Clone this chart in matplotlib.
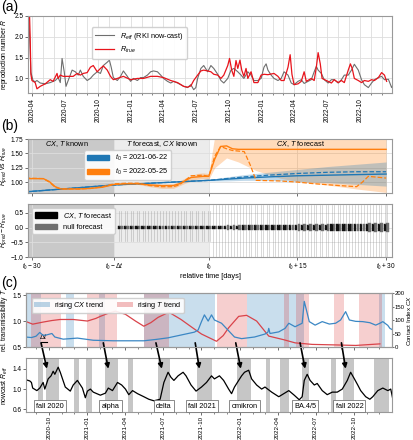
import numpy as np
import matplotlib
matplotlib.use('Agg')
import matplotlib.pyplot as plt
import matplotlib.dates as mdates
from matplotlib.patches import Patch

plt.rcParams['font.family'] = ['Liberation Sans', 'DejaVu Sans']
plt.rcParams['font.size'] = 5
plt.rcParams['mathtext.fontset'] = 'custom'
plt.rcParams['mathtext.rm'] = 'Liberation Sans'
plt.rcParams['mathtext.it'] = 'Liberation Sans:italic'
plt.rcParams['mathtext.bf'] = 'Liberation Sans:bold'
plt.rcParams['axes.edgecolor'] = '#999999'
plt.rcParams['xtick.color'] = '#555555'
plt.rcParams['ytick.color'] = '#555555'
plt.rcParams['xtick.labelcolor'] = 'black'
plt.rcParams['ytick.labelcolor'] = 'black'
plt.rcParams['xtick.major.size'] = 2.2
plt.rcParams['ytick.major.size'] = 2.2
plt.rcParams['xtick.minor.size'] = 1.4
plt.rcParams['xtick.major.width'] = 0.6
plt.rcParams['ytick.major.width'] = 0.6
plt.rcParams['xtick.minor.width'] = 0.5

TICK = 4.7
LAB = 4.9
LEG = 5.3

# ---------------- data: panel (a) (days since 2020-04-01) ----------------
a_eff_days = [-12, -6, -4, 2, 8, 13, 22, 36, 50, 64,
              72, 78, 83, 89, 94, 100, 111, 120, 128, 134,
              142, 153, 162, 170, 181, 190, 198, 209, 215, 220,
              226, 237, 246, 254, 265, 274, 282, 293, 302, 310,
              321, 330, 338, 349, 358, 366, 377, 386, 394, 405,
              414, 422, 433, 442, 450, 456, 461, 470, 478, 489,
              498, 506, 517, 526, 534, 545, 554, 562, 573, 582,
              590, 601, 610, 618, 629, 638, 646, 652, 657, 666,
              674, 685, 694, 702, 713, 722, 730, 741, 750, 758,
              769, 778, 786, 792, 797, 806, 814, 825, 834, 842,
              853, 862, 870, 881, 890, 898, 909, 918, 926, 937,
              946, 954, 965, 974, 982, 993, 1002, 1008]
a_eff_vals = [3.0, 1.68, 1.15, 0.95, 0.92, 0.95, 0.89, 0.87, 0.9, 0.95,
              1.02, 0.9, 1.48, 1.16, 0.81, 0.95, 1.2, 1.16, 1.08, 1.2,
              1.05, 0.95, 1.0, 1.08, 1.16, 1.12, 1.31, 1.39, 1.44, 1.27,
              1.02, 0.95, 1.05, 1.18, 1.05, 0.93, 1.0, 0.95, 1.02, 1.02,
              1.08, 1.16, 1.18, 1.16, 1.08, 1.0, 0.93, 0.89, 0.93, 0.89,
              0.85, 0.81, 0.78, 0.85, 0.73, 0.78, 1.0, 1.24, 1.31, 1.16,
              1.31, 1.24, 1.1, 0.95, 0.89, 1.0, 1.2, 1.24, 1.16, 1.08,
              1.0, 1.16, 1.08, 0.95, 0.95, 1.0, 1.27, 1.35, 1.2, 1.08,
              1.0, 0.95, 1.0, 1.16, 1.08, 0.89, 0.85, 0.93, 0.97, 0.88,
              0.93, 0.97, 1.16, 1.29, 1.2, 1.12, 0.97, 0.89, 0.97, 0.97,
              0.89, 0.97, 1.08, 1.08, 1.2, 1.34, 1.2, 0.97, 0.85, 0.78,
              0.89, 0.97, 1.02, 1.05, 0.97, 0.98, 0.78, 0.89]

a_true_days = [-12, -8, -6, -4, -1, 8, 13, 22, 36, 50,
               58, 69, 72, 78, 86, 97, 114, 125, 134, 142,
               153, 162, 170, 181, 190, 198, 209, 218, 226, 237,
               254, 274, 293, 310, 330, 349, 366, 386, 405, 422,
               433, 442, 450, 461, 470, 478, 489, 498, 506, 517,
               526, 534, 545, 550, 556, 562, 568, 573, 579, 584,
               590, 596, 601, 610, 618, 629, 638, 646, 657, 674,
               685, 694, 702, 713, 719, 724, 730, 741, 750, 758,
               764, 778, 786, 792, 797, 803, 808, 820, 834, 842,
               853, 862, 870, 881, 887, 892, 898, 909, 918, 926,
               937, 946, 954, 965, 974, 982, 988]
a_true_vals = [3.0, 2.6, 2.0, 1.1, 0.95, 0.9, 0.75, 0.81, 0.87, 0.97,
               0.93, 1.12, 1.0, 1.08, 1.05, 1.05, 1.05, 1.12, 1.08, 1.12,
               1.14, 1.27, 1.31, 1.16, 1.24, 1.3, 1.2, 1.05, 0.97, 1.0,
               1.05, 0.97, 1.0, 1.0, 1.05, 1.05, 1.02, 0.95, 0.9, 0.81,
               0.79, 0.82, 0.95, 1.08, 1.18, 1.2, 1.18, 1.16, 1.1, 1.08,
               1.0, 1.08, 1.31, 1.48, 1.2, 1.05, 1.43, 1.24, 1.44, 1.2,
               1.05, 1.24, 1.0, 1.16, 0.9, 0.9, 1.08, 1.1, 1.09, 1.12,
               1.05, 0.95, 0.95, 1.27, 1.57, 1.1, 0.85, 0.87, 0.93, 1.16,
               0.93, 1.0, 0.95, 1.27, 1.62, 1.35, 1.0, 0.95, 0.89, 0.97,
               0.9, 0.95, 0.9, 1.2, 1.35, 1.24, 1.0, 0.95, 0.9, 0.95,
               0.93, 0.97, 0.95, 1.02, 1.14, 1.08, 0.93]

# ---------------- data: panel (b) (relative days) ----------------
dt_days = 16
b_blue_days = [-31, -16, 0, 3, 6, 10, 15, 20, 25, 30]
b_blue_pred = [0.83, 0.95, 1.03, 1.05, 1.07, 1.09, 1.11, 1.12, 1.13, 1.14]
b_blue_true = [0.83, 0.95, 1.03, 1.06, 1.09, 1.12, 1.15, 1.17, 1.18, 1.18]
b_blue_band_days = [0, 3, 6, 10, 15, 20, 25, 30]
b_blue_lo = [1.02, 1.02, 1.03, 1.03, 1.01, 0.99, 0.96, 0.93]
b_blue_hi = [1.04, 1.09, 1.13, 1.17, 1.22, 1.27, 1.31, 1.35]

b_or_true_days = [-31, -28, -27, -26, -25, -22, -20, -18, -16, -14,
                  -12, -10, -8, -6, -5, -3, -1, 0, 1, 2,
                  3, 4, 6, 7, 8, 12, 15, 18, 22, 25,
                  26, 27, 30]
b_or_true = [1.07, 1.06, 1.0, 0.91, 0.88, 0.88, 0.89, 0.92, 0.97, 0.98,
             0.98, 0.94, 0.92, 0.92, 0.95, 1.11, 1.12, 1.1, 1.45, 1.62,
             1.58, 1.55, 1.53, 1.3, 1.03, 1.02, 1.0, 0.97, 0.94, 0.92,
             1.0, 1.1, 1.07]
b_or_pred_days = [-31, -28, -27, -26, -25, -22, -20, -18, -16, -14,
                  -12, -10, -8, -6, -5, -3, -1, 0, 1, 2,
                  3, 4, 5, 30]
b_or_pred = [1.06, 1.06, 1.01, 0.92, 0.88, 0.88, 0.89, 0.91, 0.96, 0.97,
             0.97, 0.95, 0.94, 0.94, 0.97, 1.08, 1.1, 1.1, 1.4, 1.62,
             1.63, 1.58, 1.57, 1.57]
b_or_band_days = [-16, -12, -10, -8, -6, -4, -2, -1, 0, 1, 3, 5, 8, 12, 15, 20, 25, 30]
b_or_lo = [0.95, 0.96, 0.92, 0.89, 0.89, 0.98, 1.05, 1.06, 1.05, 1.25, 1.42, 1.35, 1.2, 1.07, 1.01, 0.95, 0.88, 0.82]
b_or_hi = [0.98, 1.0, 0.98, 0.96, 0.97, 1.07, 1.15, 1.16, 1.15, 1.8, 1.9, 1.9, 1.9, 1.9, 1.9, 1.9, 1.9, 1.9]

v_days = list(range(-15, 31))
cx_q3 = [0.05, 0.05, 0.05, 0.05, 0.05, 0.05, 0.05, 0.05, 0.05, 0.05, 0.05, 0.05, 0.05, 0.05, 0.05, 0.05,
         0.05, 0.05, 0.06, 0.06, 0.06, 0.07, 0.07, 0.07, 0.08, 0.08, 0.08, 0.08, 0.09, 0.09,
         0.09, 0.09, 0.10, 0.10, 0.10, 0.10, 0.11, 0.11, 0.11, 0.11, 0.12, 0.12, 0.12, 0.12, 0.13, 0.13]
cx_q1 = [-0.05, -0.05, -0.05, -0.05, -0.05, -0.05, -0.05, -0.05, -0.05, -0.05, -0.05, -0.05, -0.05, -0.05, -0.05, -0.05,
         -0.05, -0.05, -0.06, -0.06, -0.06, -0.07, -0.07, -0.07, -0.08, -0.08, -0.08, -0.08, -0.09, -0.09,
         -0.09, -0.09, -0.10, -0.10, -0.10, -0.10, -0.11, -0.11, -0.11, -0.11, -0.12, -0.12, -0.12, -0.12, -0.13, -0.13]
null_q3 = [0.06, 0.06, 0.06, 0.06, 0.06, 0.06, 0.06, 0.06, 0.06, 0.06, 0.06, 0.06, 0.06, 0.06, 0.06, 0.06,
           0.06, 0.06, 0.07, 0.07, 0.08, 0.08, 0.08, 0.09, 0.09, 0.09, 0.10, 0.10, 0.10, 0.10,
           0.11, 0.11, 0.11, 0.11, 0.12, 0.12, 0.12, 0.12, 0.13, 0.13, 0.13, 0.13, 0.14, 0.14, 0.14, 0.14]
null_q1 = [-0.06, -0.06, -0.06, -0.06, -0.06, -0.06, -0.06, -0.06, -0.06, -0.06, -0.06, -0.06, -0.06, -0.06, -0.06, -0.06,
           -0.06, -0.06, -0.07, -0.07, -0.08, -0.08, -0.08, -0.09, -0.09, -0.09, -0.10, -0.10, -0.10, -0.10,
           -0.11, -0.11, -0.11, -0.11, -0.12, -0.12, -0.12, -0.12, -0.13, -0.13, -0.13, -0.13, -0.14, -0.14, -0.14, -0.14]
whis_hi = [0.55, 0.55, 0.55, 0.55, 0.55, 0.55, 0.55, 0.55, 0.55, 0.55, 0.55, 0.55, 0.55, 0.55, 0.55, 0.55,
           0.75, 0.75, 0.75, 0.75, 0.75, 0.75, 0.75, 0.75, 0.75, 0.75, 0.75, 0.75, 0.75, 0.75,
           0.75, 0.75, 0.75, 0.75, 0.75, 0.75, 0.75, 0.75, 0.75, 0.75, 0.75, 0.75, 0.75, 0.75, 0.75, 0.75]
whis_lo = [-0.45, -0.45, -0.45, -0.45, -0.45, -0.45, -0.45, -0.45, -0.45, -0.45, -0.45, -0.45, -0.45, -0.45, -0.45, -0.45,
           -1.0, -1.0, -1.0, -1.0, -1.0, -1.0, -1.0, -1.0, -1.0, -1.0, -1.0, -1.0, -1.0, -1.0,
           -1.0, -1.0, -1.0, -1.0, -1.0, -1.0, -1.0, -1.0, -1.0, -1.0, -1.0, -1.0, -1.0, -1.0, -1.0, -1.0]
b_xticks = [-30, -16, 0, 15, 30]
b_xticklabels = [r'$t_0-30$', r'$t_0-\Delta t$', r'$t_0$', r'$t_0+15$', r'$t_0+30$']

# ---------------- data: panel (c) (days since 2020-04-01) ----------------
c1_T_days = [128, 144, 169, 190, 210, 241, 275, 295, 306, 325, 342, 366, 390, 410, 427, 444, 470,
             499, 525, 548, 584, 600, 613, 637, 656, 680, 709, 745, 772, 813, 869, 917, 975]
c1_T_vals = [0.99, 0.94, 0.98, 1.01, 1.03, 1.03, 1.0, 1.05, 1.09, 1.15, 1.19, 1.13, 1.0, 0.9, 0.97, 1.07, 1.17,
             1.03, 0.88, 0.75, 0.61, 0.72, 0.87, 1.09, 1.11, 1.0, 0.71, 0.64, 0.58, 0.55, 0.54, 0.53, 0.56]
c1_cx_days = [127, 141, 152, 161, 169, 178, 190, 197, 217, 251,
              289, 337, 386, 410, 439, 468, 492, 516, 531, 540,
              548, 555, 564, 572, 579, 596, 613, 627, 644, 675,
              700, 707, 709, 712, 733, 748, 757, 772, 789, 794,
              799, 806, 820, 837, 854, 869, 881, 893, 902, 917,
              934, 951, 965, 975, 982, 994, 999, 1006]
c1_cx_vals = [37, 35, 40, 54, 43, 45, 50, 37, 29, 33,
              25, 23, 23, 23, 28, 34, 42, 50, 55, 63,
              94, 119, 96, 119, 100, 88, 60, 37, 31, 37,
              48, 55, 69, 50, 56, 69, 88, 75, 88, 169,
              138, 94, 81, 94, 85, 88, 100, 131, 100, 95,
              94, 90, 81, 88, 94, 80, 69, 63]
cx_rise_spans = [(128, 163), (223, 243), (302, 316), (411, 580), (656, 793), (972, 988)]
t_rise_spans = [(140, 211), (275, 345), (411, 471), (584, 656), (745, 757), (774, 805), (865, 890), (924, 980)]

c2_days = [129, 137, 141, 144, 154, 161, 169, 173, 181, 188,
           193, 197, 205, 210, 222, 234, 241, 251, 263, 270,
           275, 282, 289, 306, 318, 325, 335, 347, 357, 366,
           374, 383, 395, 410, 422, 434, 444, 449, 458, 468,
           475, 482, 492, 504, 511, 523, 535, 548, 560, 572,
           579, 591, 601, 613, 620, 627, 637, 644, 651, 661,
           668, 680, 692, 700, 716, 733, 745, 757, 770, 782,
           789, 794, 801, 808, 818, 825, 837, 849, 861, 873,
           885, 897, 905, 914, 922, 929, 941, 951, 958, 970,
           982, 994, 1001, 1006, 1011]
c2_vals = [1.18, 1.16, 1.13, 1.02, 0.97, 1.02, 1.13, 1.0, 1.2, 1.26,
           1.35, 1.29, 1.43, 1.33, 1.04, 0.96, 1.08, 1.17, 1.02, 0.83,
           0.96, 1.0, 0.94, 0.88, 0.92, 1.02, 0.97, 1.13, 1.08, 1.0,
           0.89, 0.97, 0.91, 0.85, 0.8, 0.77, 0.79, 0.8, 1.13, 1.33,
           1.23, 1.17, 1.26, 1.33, 1.26, 1.08, 0.96, 1.04, 1.13, 1.26,
           1.2, 1.26, 1.17, 1.0, 0.91, 1.04, 1.17, 1.26, 1.33, 1.37,
           1.2, 1.08, 1.0, 1.04, 0.94, 0.85, 0.91, 0.97, 0.88, 0.79,
           0.85, 1.17, 1.29, 1.17, 1.08, 1.11, 0.97, 0.89, 0.94, 0.94,
           1.0, 1.17, 1.33, 1.2, 1.08, 0.97, 0.85, 0.8, 0.85, 0.97,
           1.02, 0.97, 1.0, 0.8, 0.88]
c2_spans = [(156, 169), (176, 208), (242, 255), (272, 286), (318, 348), (371, 383),
            (444, 473), (538, 573), (634, 667), (702, 711), (736, 758), (789, 805),
            (857, 869), (887, 914), (960, 996)]
wave_labels = ['fall 2020', 'alpha', 'delta', 'fall 2021', 'omikron', 'BA.4/5', 'fall 2022']
wave_label_days = [185, 330, 458, 550, 651, 796, 902]
arrow_start_days = [164, 313, 439, 533, 630, 784, 883]
arrow_end_days = [178, 325, 453, 543, 642, 796, 893]

BASE = np.datetime64('2020-04-01')


def to_dates(days):
    return BASE + np.array(days, dtype='timedelta64[D]')


def date_num(day):
    return mdates.date2num(to_dates([day])[0])


W, H = 413, 440
fig = plt.figure(figsize=(W / 100, H / 100), dpi=100)


def rect(x0, y0, x1, y1):
    return [x0 / W, 1 - y1 / H, (x1 - x0) / W, (y1 - y0) / H]


def date_axis(ax, labels=True):
    ax.xaxis.set_major_locator(mdates.MonthLocator(bymonth=[1, 4, 7, 10]))
    ax.xaxis.set_minor_locator(mdates.MonthLocator())
    ax.xaxis.set_major_formatter(mdates.DateFormatter('%Y-%m'))
    if labels:
        for lb in ax.get_xticklabels():
            lb.set_rotation(90)
    else:
        ax.tick_params(axis='x', labelbottom=False)


def place_ylabel(ax, x_px, x0_px, w_px):
    ax.yaxis.set_label_coords((x_px - x0_px) / w_px, 0.5)


# ---------------- panel (a) ----------------
ax_a = fig.add_axes(rect(28, 16, 392, 93))
ax_a.plot(to_dates(a_eff_days), a_eff_vals, color='#6e6e6e', lw=0.8, label=r'$R_{eff}$ (RKI now-cast)')
ax_a.plot(to_dates(a_true_days), a_true_vals, color='#e8141c', lw=0.9, label=r'$R_{true}$')
ax_a.set_ylim(0.65, 2.5)
ax_a.set_xlim(to_dates([-12])[0], to_dates([1003])[0])
ax_a.set_yticks([1.0, 1.5, 2.0, 2.5])
date_axis(ax_a)
ax_a.grid(True, which='both', color='#dddddd', lw=0.6)
ax_a.set_axisbelow(True)
ax_a.set_ylabel(r'reproduction number $R$', fontsize=LAB)
place_ylabel(ax_a, 10.5, 28, 364)
ax_a.tick_params(labelsize=TICK, pad=1.2)
ax_a.legend(loc='upper left', bbox_to_anchor=(0.165, 0.9), fontsize=LEG, frameon=True,
            framealpha=0.9, edgecolor='#cccccc', handlelength=2.6, borderpad=0.45, labelspacing=0.45)
fig.text(0.002, 0.999, '(a)', fontsize=10, va='top', ha='left')

# ---------------- panel (b) top ----------------
ax_b1 = fig.add_axes(rect(28, 139, 392, 193))
ax_b2 = fig.add_axes(rect(28, 204, 392, 257), sharex=ax_b1)
for ax in (ax_b1, ax_b2):
    ax.axvspan(-40, -dt_days, color='#c9c9c9', lw=0, zorder=0)
    ax.axvspan(-dt_days, 0, color='#ececec', lw=0, zorder=0)
    ax.grid(True, color='#dedede', lw=0.6, zorder=0.5)
    ax.set_axisbelow(True)
    ax.tick_params(labelsize=TICK, pad=1.2)

ax_b1.fill_between(b_or_band_days, b_or_lo, b_or_hi, color='#ff7f0e', alpha=0.28, lw=0)
ax_b1.fill_between(b_blue_band_days, b_blue_lo, b_blue_hi, color='#1f77b4', alpha=0.28, lw=0)
ax_b1.plot(b_blue_days, b_blue_pred, color='#1f77b4', lw=1.0)
ax_b1.plot(b_blue_days, b_blue_true, color='#1f77b4', lw=0.9, ls='--')
ax_b1.plot(b_or_pred_days, b_or_pred, color='#ff7f0e', lw=1.0)
ax_b1.plot(b_or_true_days, b_or_true, color='#ff7f0e', lw=0.9, ls='--')
ax_b1.set_xlim(-30.6, 31)
ax_b1.set_ylim(0.81, 1.75)
ax_b1.set_yticks([1.0, 1.25, 1.5, 1.75])
ax_b1.set_yticklabels(['1.00', '1.25', '1.50', '1.75'])
ax_b1.set_xticks(b_xticks)
ax_b1.tick_params(axis='x', labelbottom=False)
ax_b1.set_ylabel(r'$R_{pred}$ vs $R_{true}$', fontsize=LAB)
place_ylabel(ax_b1, 9.5, 28, 364)
ax_b1.text(-24, 1.66, r'$CX$, $T$ known', ha='center', va='center', fontsize=LEG)
ax_b1.text(-8, 1.66, r'$T$ forecast, $CX$ known', ha='center', va='center', fontsize=LEG)
ax_b1.text(15.5, 1.66, r'$CX$, $T$ forecast', ha='center', va='center', fontsize=LEG)
ax_b1.legend(handles=[Patch(color='#1f77b4', label=r'$t_0$ = 2021-06-22'),
                      Patch(color='#ff7f0e', label=r'$t_0$ = 2022-05-25')],
             loc='upper left', bbox_to_anchor=(0.145, 0.86), fontsize=LEG, framealpha=0.9,
             edgecolor='#cccccc', handlelength=3.0, borderpad=0.4, labelspacing=0.45)
fig.text(0.002, 0.729, '(b)', fontsize=10, va='top', ha='left')

# ---------------- panel (b) bottom ----------------
stats_cx, stats_null = [], []
for i in range(len(v_days)):
    stats_cx.append(dict(med=0.0, q1=cx_q1[i], q3=cx_q3[i], whislo=whis_lo[i], whishi=whis_hi[i], fliers=[]))
    stats_null.append(dict(med=0.0, q1=null_q1[i], q3=null_q3[i], whislo=whis_lo[i], whishi=whis_hi[i], fliers=[]))
pos_cx = [d - 0.22 for d in v_days]
pos_null = [d + 0.22 for d in v_days]
common = dict(widths=0.4, patch_artist=True, showfliers=False, showcaps=False, manage_ticks=False,
              whiskerprops=dict(color='#888888', lw=0.5, alpha=0.45),
              medianprops=dict(lw=0))
ax_b2.bxp(stats_null, positions=pos_null, boxprops=dict(facecolor='#707070', edgecolor='#707070', lw=0.3), **common)
ax_b2.bxp(stats_cx, positions=pos_cx, boxprops=dict(facecolor='#111111', edgecolor='#111111', lw=0.3), **common)
ax_b2.set_ylim(-1.0, 0.8)
ax_b2.set_yticks([-1.0, -0.5, 0.0, 0.5])
ax_b2.set_xticks(b_xticks)
ax_b2.set_xticklabels(b_xticklabels)
ax_b2.set_xlim(-30.6, 31)
ax_b2.set_ylabel(r'$R_{pred}-R_{true}$', fontsize=LAB)
place_ylabel(ax_b2, 9.5, 28, 364)
ax_b2.set_xlabel('relative time [days]', fontsize=LEG, labelpad=1)
ax_b2.legend(handles=[Patch(color='black', label=r'$CX$, $T$ forecast'),
                      Patch(color='#707070', label='null forecast')],
             loc='upper left', fontsize=LEG, framealpha=0.9, edgecolor='#cccccc',
             handlelength=3.0, borderpad=0.4, labelspacing=0.45)

# ---------------- panel (c) top ----------------
ax_c1 = fig.add_axes(rect(26, 293, 392, 347))
ax_c2 = fig.add_axes(rect(26, 358, 392, 412))
xl = (to_dates([128])[0], to_dates([1004])[0])
for a0, a1 in cx_rise_spans:
    ax_c1.axvspan(to_dates([a0])[0], to_dates([a1])[0], color='#1f77b4', alpha=0.24, lw=0)
for a0, a1 in t_rise_spans:
    ax_c1.axvspan(to_dates([a0])[0], to_dates([a1])[0], color='#d62728', alpha=0.22, lw=0)
ax_c1.plot(to_dates(c1_T_days), c1_T_vals, color='#d9434a', lw=0.9)
ax_c1.set_ylim(0.5, 1.54)
ax_c1.set_yticks([0.5, 1.0, 1.5])
ax_c1.set_xlim(*xl)
date_axis(ax_c1, labels=False)
ax_c1.set_ylabel(r'rel. transmissibility $T$', fontsize=LAB)
place_ylabel(ax_c1, 9.5, 26, 366)
ax_c1.tick_params(labelsize=TICK, pad=1.2)
ax_c1r = ax_c1.twinx()
ax_c1r.plot(to_dates(c1_cx_days), c1_cx_vals, color='#3b87c4', lw=0.9)
ax_c1r.set_ylim(0, 200)
ax_c1r.set_yticks([0, 50, 100, 150, 200])
ax_c1r.set_ylabel(r'Contact Index $CX$', fontsize=4.5)
ax_c1r.yaxis.label.set_verticalalignment('center')
ax_c1r.yaxis.label.set_horizontalalignment('center')
ax_c1r.yaxis.set_label_coords((409.4 - 26) / 366, 0.5)
ax_c1r.tick_params(labelsize=4.3, pad=0.5, length=1.5)
ax_c1r.set_xlim(*xl)
ax_c1.legend(handles=[Patch(facecolor='#1f77b4', alpha=0.3, label=r'rising $CX$ trend'),
                      Patch(facecolor='#d62728', alpha=0.3, label=r'rising $T$ trend')],
             loc='upper left', ncol=2, fontsize=LEG, framealpha=0.9, edgecolor='#cccccc',
             handlelength=2.2, borderpad=0.3, columnspacing=1.8, handletextpad=0.5,
             bbox_to_anchor=(0.005, 0.98))
ax_c1.plot([to_dates([164])[0], to_dates([178])[0]], [0.6, 0.6], color='black', lw=0.8)
ax_c1.text(to_dates([171])[0], 0.615, r'$\Delta t$', ha='center', va='bottom', fontsize=LEG)
fig.text(0.002, 0.372, '(c)', fontsize=10, va='top', ha='left')

# ---------------- panel (c) bottom ----------------
for a0, a1 in c2_spans:
    ax_c2.axvspan(to_dates([a0])[0], to_dates([a1])[0], color='#c6c6c6', lw=0)
ax_c2.plot(to_dates(c2_days), c2_vals, color='black', lw=0.9)
ax_c2.set_ylim(0.55, 1.61)
ax_c2.set_yticks([0.6, 1.0, 1.4])
ax_c2.set_xlim(*xl)
date_axis(ax_c2)
ax_c2.set_ylabel(r'nowcast $R_{eff}$', fontsize=LAB)
place_ylabel(ax_c2, 9.5, 26, 366)
ax_c2.tick_params(labelsize=TICK, pad=1.0)
ax_c2.tick_params(axis='x', labelsize=4.5, pad=0.8, length=1.8)
for lab, d in zip(wave_labels, wave_label_days):
    ax_c2.text(to_dates([d])[0], 0.665, lab, ha='center', va='center', fontsize=LEG,
               bbox=dict(boxstyle='square,pad=0.3', fc='white', ec='#777777', lw=0.6))
for d0, d1 in zip(arrow_start_days, arrow_end_days):
    ax_c2.annotate('', xy=(date_num(d1), 1.40), xycoords='data',
                   xytext=(date_num(d0), 0.58), textcoords=ax_c1.transData,
                   arrowprops=dict(arrowstyle='-|>', color='black', lw=1.2, mutation_scale=7,
                                   shrinkA=0, shrinkB=0),
                   annotation_clip=False)

fig.savefig('out.png', dpi=100)
